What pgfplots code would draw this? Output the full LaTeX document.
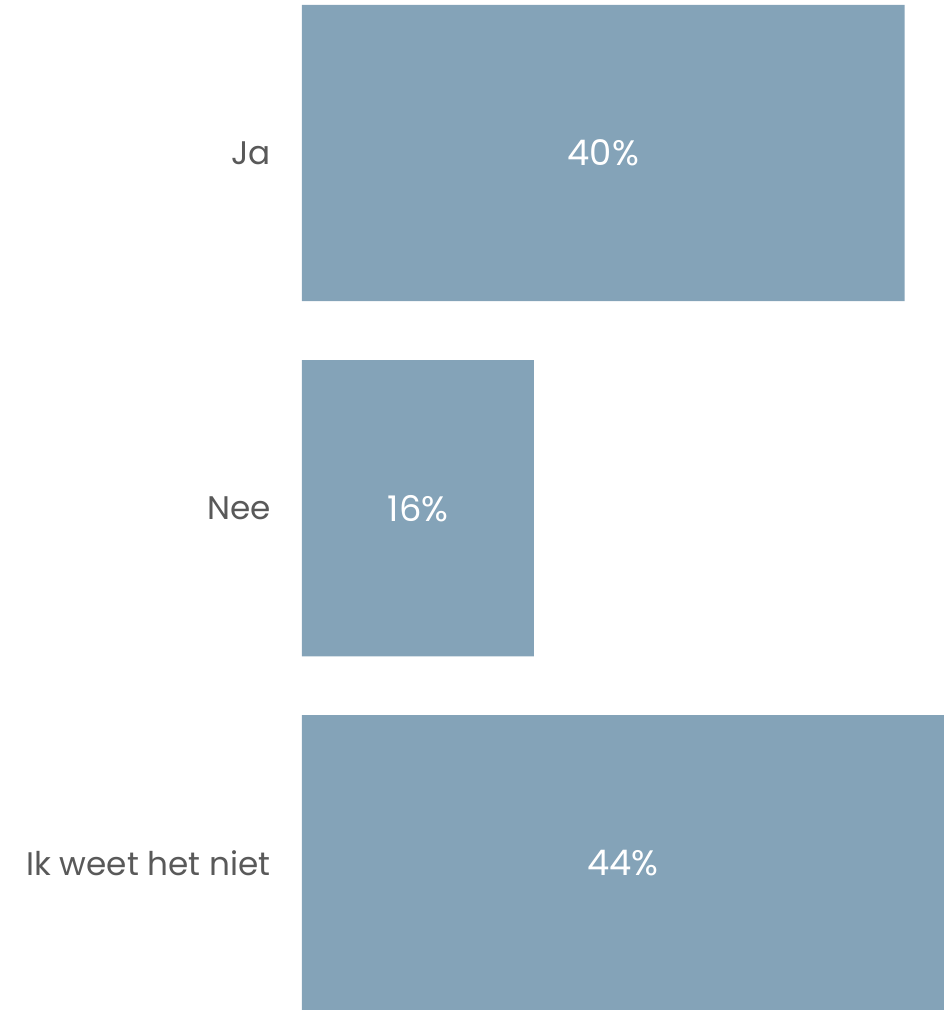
\documentclass[border=0pt]{standalone}
\usepackage{pgfplots}
\pgfplotsset{compat=1.18}
\usepackage{fontspec}
\setmainfont{Poppins}
\definecolor{barc}{HTML}{84A3B8}
\definecolor{txt}{HTML}{595959}
\begin{document}
\begin{tikzpicture}
\useasboundingbox (-226.5pt,0pt) rectangle (481.5pt,757.5pt);
\begin{axis}[name=ax, at={(0pt,0pt)}, anchor=south west,
  scale only axis, width=481.5pt, height=757.5pt,
  xmin=0, xmax=44,
  ymin=-0.431, ymax=2.413, y dir=reverse,
  ytick={0,1,2}, yticklabels={Ja,Nee,Ik weet het niet},
  yticklabel style={font=\fontsize{24.5}{28}\selectfont, text=txt, xshift=-20pt},
  xtick=\empty, major tick length=0pt,
  axis line style={draw=none},
  clip=false,
]
\addplot[xbar, bar shift=0pt, bar width=0.834, fill=barc, draw=none] coordinates {(41.3,0) (15.9,1) (44,2)};
\addplot[draw=none, mark=none, point meta=explicit symbolic,
  nodes near coords, nodes near coords style={anchor=center, text=white, font=\fontsize{26.5}{30}\selectfont}]
  coordinates {(20.65,0)[40\%] (7.95,1)[16\%] (22,2)[44\%]};
\end{axis}
\end{tikzpicture}
\end{document}
